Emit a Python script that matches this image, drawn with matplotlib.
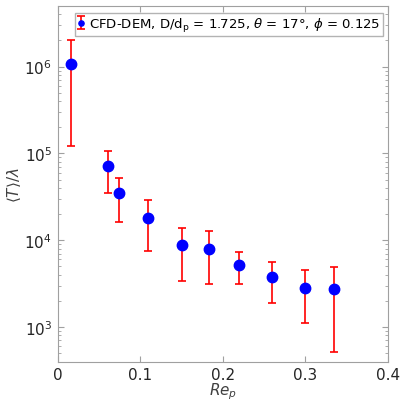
import numpy as np
import matplotlib.pyplot as plt

re_p = [0.0157, 0.0605, 0.0742, 0.110, 0.151, 0.1835, 0.220, 0.260, 0.300, 0.335]
t_mean = [1.07e6, 7.2e4, 3.5e4, 1.82e4, 8.7e3, 7.9e3, 5.25e3, 3.76e3, 2.84e3, 2.74e3]
t_upper = [2.0e6, 1.07e5, 5.2e4, 2.9e4, 1.4e4, 1.26e4, 7.4e3, 5.6e3, 4.5e3, 4.9e3]
t_lower = [1.22e5, 3.5e4, 1.64e4, 7.6e3, 3.4e3, 3.1e3, 3.1e3, 1.9e3, 1.12e3, 5.2e2]

y = np.array(t_mean)
yerr = [y - np.array(t_lower), np.array(t_upper) - y]

fig = plt.figure(figsize=(4.0, 4.02), dpi=100)
ax = fig.add_axes([0.144, 0.098, 0.826, 0.885])

ax.errorbar(re_p, y, yerr=yerr, fmt='o', color='blue', markersize=7.5,
            ecolor='red', elinewidth=1.2, capsize=3, capthick=1.2,
            label=r'CFD-DEM, D/d$_\mathrm{p}$ = 1.725, $\theta$ = 17°, $\phi$ = 0.125')

ax.set_yscale('log')
ax.set_xlim(0, 0.4)
ax.set_ylim(4e2, 5e6)
ax.set_xticks([0, 0.1, 0.2, 0.3, 0.4])
ax.set_xticklabels(['0', '0.1', '0.2', '0.3', '0.4'])

gray = '#a0a0a0'
for s in ax.spines.values():
    s.set_color(gray)
ax.tick_params(which='both', direction='in', top=True, right=True, colors=gray,
               labelcolor='#262626', labelsize=11, pad=4)
ax.tick_params(which='major', length=4)
ax.tick_params(which='minor', length=2)

ax.set_xlabel(r'$Re_p$', fontsize=11, color='#404040', labelpad=-1)
ax.set_ylabel(r'$\langle T \rangle / \lambda$', fontsize=11, color='#404040', labelpad=1)

leg = ax.legend(loc='upper right', fontsize=9.5, fancybox=False, handletextpad=0.3,
                borderpad=0.2, borderaxespad=0, handlelength=0.6, markerscale=0.5,
                bbox_to_anchor=(0.985, 0.98))
leg.get_frame().set_edgecolor(gray)

fig.savefig('out.png')
